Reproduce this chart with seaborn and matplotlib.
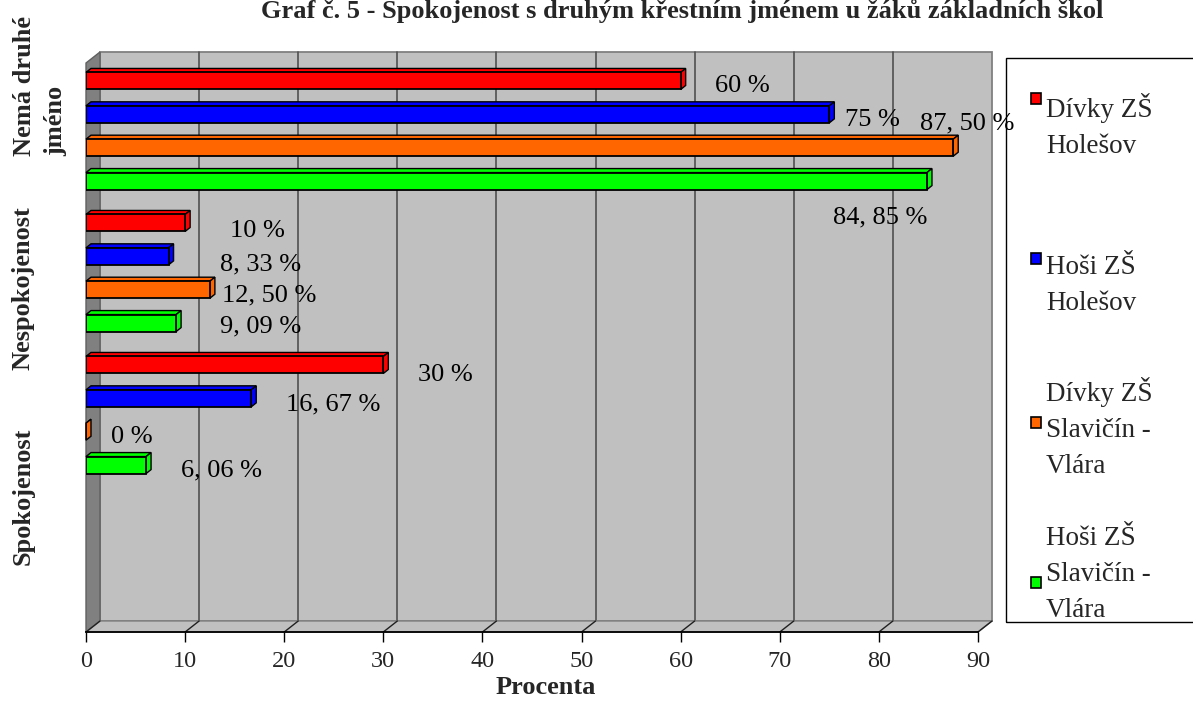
import numpy as np
import pandas as pd
import matplotlib
matplotlib.use("Agg")
import matplotlib.pyplot as plt
import matplotlib.transforms as mtrans
from matplotlib.patches import Polygon, Rectangle
import seaborn as sns

# ---------------- data ----------------
categories = ["Nemá druhé jméno", "Nespokojenost", "Spokojenost"]
category_labels = ["Nemá druhé\njméno", "Nespokojenost", "Spokojenost"]
series_names = ["Dívky ZŠ Holešov", "Hoši ZŠ Holešov",
                "Dívky ZŠ Slavičín - Vlára", "Hoši ZŠ Slavičín - Vlára"]
legend_labels = ["Dívky ZŠ\nHolešov", "Hoši ZŠ\nHolešov",
                 "Dívky ZŠ\nSlavičín -\nVlára", "Hoši ZŠ\nSlavičín -\nVlára"]
divky_holesov = [60.0, 10.0, 30.0]
hosi_holesov = [75.0, 8.33, 16.67]
divky_slavicin = [87.50, 12.50, 0.0]
hosi_slavicin = [84.85, 9.09, 6.06]
x_ticks = [0, 10, 20, 30, 40, 50, 60, 70, 80, 90]
series_colors = ["#FF0000", "#0000FF", "#FF6600", "#00FF00"]
title = "Graf č. 5 - Spokojenost s druhým křestním jménem u žáků základních škol"
x_label = "Procenta"

rows = []
for name, vals in zip(series_names, [divky_holesov, hosi_holesov, divky_slavicin, hosi_slavicin]):
    for cat, v in zip(categories, vals):
        rows.append({"kategorie": cat, "skupina": name, "procenta": v})
df = pd.DataFrame(rows)

# ---------------- layout (pixels) ----------------
W, H, DPI = 1193, 704, 100
FL, FR, FT, FB = 86, 978, 63, 632          # front frame of the plot
DX, DY = 14, 11                            # depth of the 3D walls
BX, BY = 5, 4                              # depth of the 3D bars
label_offsets = [[(62, 5), (72, 8), (62, 10)],
                 [(43, 6), (92, 8), (82, 6)],
                 [(14, -24), (59, 6), (46, 5)],
                 [(-47, 36), (85, 3), (75, 5)]]
cat_label_pos = [(40, 156), (23, 370), (23, 565)]
legend_box = (1006, 58, 1200, 622)
legend_text_x = 1046
legend_marker_y = [98.5, 258.5, 422, 582]
legend_baseline = [112, 274, 396, 545]

sns.set_theme(style="white")
plt.rcParams["font.family"] = ["Liberation Serif", "DejaVu Serif"]

fig = plt.figure(figsize=(W / DPI, H / DPI), dpi=DPI)
fig.patch.set_facecolor("white")
ax = fig.add_axes([FL / W, 1 - FB / H, (FR - FL) / W, (FB - FT) / H])
ax.set_facecolor("none")

sns.barplot(data=df, x="procenta", y="kategorie", hue="skupina",
            order=categories, hue_order=series_names, palette=series_colors,
            orient="h", width=0.94, gap=0.49, saturation=1,
            edgecolor="black", linewidth=1.3, legend=False, errorbar=None,
            ax=ax, zorder=5)

ax.set_xlim(0, 90)
ax.set_ylim(3.528, -0.479)
ax.set_xticks(x_ticks)
ax.set_xticklabels([str(t) for t in x_ticks], fontsize=17.5)
ax.tick_params(axis="x", direction="out", length=7.2, width=1, color="black", pad=6.5, bottom=True)
ax.set_yticks([])
ax.set_ylabel("")
for s in ["top", "right", "left"]:
    ax.spines[s].set_visible(False)
ax.spines["bottom"].set_color("black")
ax.spines["bottom"].set_linewidth(1.3)
ax.spines["bottom"].set_zorder(3)

ax.set_xlabel(x_label, fontsize=19, fontweight="bold")
ax.xaxis.set_label_coords((546 - FL) / (FR - FL), -(676 - FB) / (FB - FT))

# ---------------- 3D walls ----------------
offset = mtrans.ScaledTranslation(DX / DPI, DY / DPI, fig.dpi_scale_trans)
back = ax.transAxes + offset
ax.add_patch(Rectangle((0, 0), 1, 1, transform=back, facecolor="#C0C0C0",
                       edgecolor="#808080", linewidth=1.3, zorder=0, clip_on=False))
for t in x_ticks[1:-1]:
    ax.plot([t, t], [0, 1], transform=ax.get_xaxis_transform() + offset,
            color="#505050", linewidth=1.2, zorder=1, clip_on=False)

ident = mtrans.IdentityTransform()
p_fb = ax.transAxes.transform((0, 0))
p_ft = ax.transAxes.transform((0, 1))
p_fr = ax.transAxes.transform((1, 0))
d = np.array([DX, DY])
ax.add_patch(Polygon([p_fb, p_ft, p_ft + d, p_fb + d], closed=True, transform=ident,
                     facecolor="#808080", edgecolor="#606060", linewidth=1, zorder=1, clip_on=False))
ax.add_patch(Polygon([p_fb, p_fr, p_fr + d, p_fb + d], closed=True, transform=ident,
                     facecolor="#C0C0C0", edgecolor="#808080", linewidth=1, zorder=1, clip_on=False))
for t in x_ticks:
    p = ax.transData.transform((t, ax.get_ylim()[0]))
    ax.plot([p[0], p[0] + DX], [p[1], p[1] + DY], transform=ident,
            color="#202020", linewidth=1, zorder=2, clip_on=False)

# ---------------- 3D bars + labels ----------------
def fmt(v):
    if float(v).is_integer():
        return f"{v:.0f} %"
    return f"{v:.2f}".replace(".", ", ") + " %"

series_values = [divky_holesov, hosi_holesov, divky_slavicin, hosi_slavicin]
for si, cont in enumerate(ax.containers):
    for ci, bar in enumerate(cont):
        x0, y0 = bar.get_x(), bar.get_y()
        x1, y1 = x0 + bar.get_width(), y0 + bar.get_height()
        a = ax.transData.transform((x0, y0))
        b = ax.transData.transform((x1, y1))
        L, R = min(a[0], b[0]), max(a[0], b[0])
        B, T = min(a[1], b[1]), max(a[1], b[1])
        fc = bar.get_facecolor()
        ax.add_patch(Polygon([(L, T), (R, T), (R + BX, T + BY), (L + BX, T + BY)], closed=True,
                             transform=ident, facecolor=fc, edgecolor="black", linewidth=1,
                             zorder=4, clip_on=False))
        ax.add_patch(Polygon([(R, B), (R, T), (R + BX, T + BY), (R + BX, B + BY)], closed=True,
                             transform=ident, facecolor=fc, edgecolor="black", linewidth=1,
                             zorder=4, clip_on=False))
        dx, dy = label_offsets[si][ci]
        ax.annotate(fmt(series_values[si][ci]), xy=(x1, (y0 + y1) / 2), xytext=(dx, -dy),
                    textcoords="offset pixels", ha="center", va="center", fontsize=19,
                    color="black", zorder=6, annotation_clip=False)

# ---------------- category labels ----------------
for lab, (px, py) in zip(category_labels, cat_label_pos):
    fig.text(px / W, 1 - py / H, lab, rotation=90, ha="center", va="bottom",
             multialignment="left", fontsize=19, fontweight="bold", linespacing=1.45)

# ---------------- title ----------------
fig.text(682 / W, 1 - 18 / H, title, ha="center", va="baseline", fontsize=19, fontweight="bold")

# ---------------- legend ----------------
lx0, ly0, lx1, ly1 = legend_box
fig.add_artist(Rectangle((lx0 / W, 1 - ly1 / H), (lx1 - lx0) / W, (ly1 - ly0) / H,
                         transform=fig.transFigure, facecolor="none", edgecolor="black",
                         linewidth=1, zorder=0))
fs_leg = 19.5
asc = 0.69 * fs_leg * DPI / 72
for lab, col, my, bl in zip(legend_labels, series_colors, legend_marker_y, legend_baseline):
    fig.add_artist(Rectangle((1031 / W, 1 - (my + 5.5) / H), 10 / W, 11 / H,
                             transform=fig.transFigure, facecolor=col, edgecolor="black",
                             linewidth=1.2, zorder=2))
    fig.text(legend_text_x / W, 1 - (bl - asc) / H, lab, ha="left", va="top",
             fontsize=fs_leg, linespacing=1.56)

fig.savefig("out.png", dpi=DPI, facecolor="white")
